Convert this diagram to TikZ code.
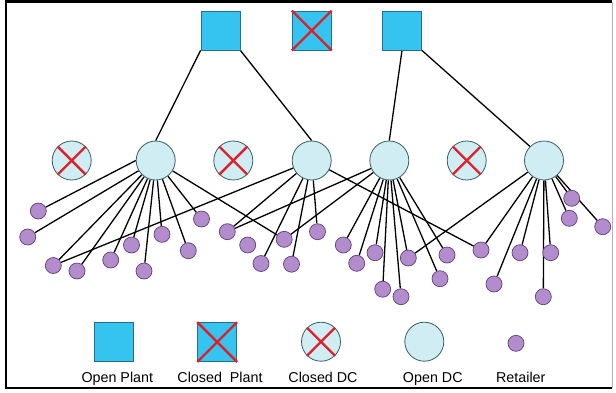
\documentclass[tikz,border=0pt]{standalone}
\usepackage{fontspec}
\setmainfont{Liberation Sans}
\usetikzlibrary{backgrounds}
\definecolor{plantblue}{RGB}{53,196,240}
\definecolor{plantedge}{RGB}{40,110,140}
\definecolor{dcfill}{RGB}{208,237,243}
\definecolor{dcedge}{RGB}{55,95,100}
\definecolor{retfill}{RGB}{178,140,204}
\definecolor{retedge}{RGB}{95,65,120}
\definecolor{xred}{RGB}{222,32,42}
\tikzset{
  plantbox/.style={draw=plantedge, fill=plantblue, minimum width=39pt, minimum height=39pt, inner sep=0pt, line width=0.8pt},
  dcnode/.style={circle, draw=dcedge, fill=dcfill, minimum size=39pt, inner sep=0pt, line width=0.8pt},
  retnode/.style={circle, draw=retedge, fill=retfill, minimum size=16pt, inner sep=0pt, line width=0.7pt},
  link/.style={line width=1.3pt, black},
  cross/.style={xred, line width=2.4pt},
  legendtext/.style={font=\fontsize{14.3}{17}\selectfont, anchor=base, inner sep=0pt},
}
\begin{document}
\begin{tikzpicture}[x=1pt, y=-1pt]
\useasboundingbox (0,0) rectangle (616,392);
% plants
\node[plantbox] (p1) at (220.5,30.5) {};
\node[plantbox] (p0) at (311.7,30.5) {};
\node[plantbox] (p2) at (402,30.5) {};
% DCs
\node[dcnode] (c1) at (71.7,160.5) {};
\node[dcnode] (d1) at (155.7,160.5) {};
\node[dcnode] (c2) at (233.3,160.5) {};
\node[dcnode] (d2) at (311.7,160.5) {};
\node[dcnode] (d3) at (389.3,160.5) {};
\node[dcnode] (c3) at (466.7,160.5) {};
\node[dcnode] (d4) at (544,160.5) {};
% retailers
\foreach \n/\x/\y in {
  1/38.3/211, 2/27.7/237, 3/53.3/265.5, 4/77/271, 5/110.7/260,
  6/131.5/245, 7/144/271, 8/162/234.3, 9/188.3/250.7, 10/201.5/219,
  11/227.3/231.7, 12/247.7/245, 13/261/263.5, 14/284.2/239.3, 15/291.5/264.2,
  16/317.5/231.7, 17/343.3/245, 18/356.7/263.3, 19/375/252.7, 20/382.7/289.2,
  21/401/296.7, 22/408.3/258, 23/440/278.7, 24/447/255, 25/481/250,
  26/494/284, 27/520/252.7, 28/543.3/296.7, 29/550.7/252.7, 30/571.7/198.3,
  31/569.3/218.3, 32/602.7/226.7}
  \node[retnode] (r\n) at (\x,\y) {};
% legend
\node[plantbox] (lp1) at (113.8,342) {};
\node[plantbox] (lp0) at (217.2,342) {};
\node[dcnode] (lc) at (321,341.7) {};
\node[dcnode] (ld) at (424.3,341.7) {};
\node[retnode] (lr) at (516,343.3) {};
\node[legendtext] (t1) at (117.3,382.3) {Open Plant};
\node[legendtext] (t2) at (220,382.3) {Closed\ \ Plant};
\node[legendtext] (t3) at (323,382.3) {Closed DC};
\node[legendtext] (t4) at (432.8,382.3) {Open DC};
\node[legendtext] (t5) at (520.8,382.3) {Retailer};
% crosses
\foreach \c in {p0,lp0,c1,c2,c3,lc} {
  \draw[cross] (\c.north west) -- (\c.south east);
  \draw[cross] (\c.north east) -- (\c.south west);
}
\begin{scope}[on background layer]
  \fill[white] (0,0) rectangle (616,392);
  \draw[line width=2.7pt] (612,1.5) -- (6,1.5) -- (6,388) -- (612,388);
  \draw[line width=0.6pt, gray!60] (612,1.5) -- (612,388);
  \draw[link] (p1.south west) -- (d1.north);
  \draw[link] (p1.south east) -- (d2.north);
  \draw[link] (p2.south) -- (d3.north);
  \draw[link] (p2.south east) -- (d4.north west);
  \draw[link] (d1.west) -- (r1);
  \foreach \a/\b in {d1/r2, d1/r3, d1/r4, d1/r5, d1/r6, d1/r7, d1/r8, d1/r9, d1/r10, d1/r14,
    d2/r3, d2/r11, d2/r13, d2/r15, d2/r16, d2/r25,
    d3/r11, d3/r14, d3/r17, d3/r18, d3/r19, d3/r20, d3/r21, d3/r22, d3/r23, d3/r24,
    d4/r22, d4/r25, d4/r26, d4/r27, d4/r28, d4/r29, d4/r30, d4/r31, d4/r32}
    \draw[link] (\a) -- (\b);
\end{scope}
\end{tikzpicture}
\end{document}
